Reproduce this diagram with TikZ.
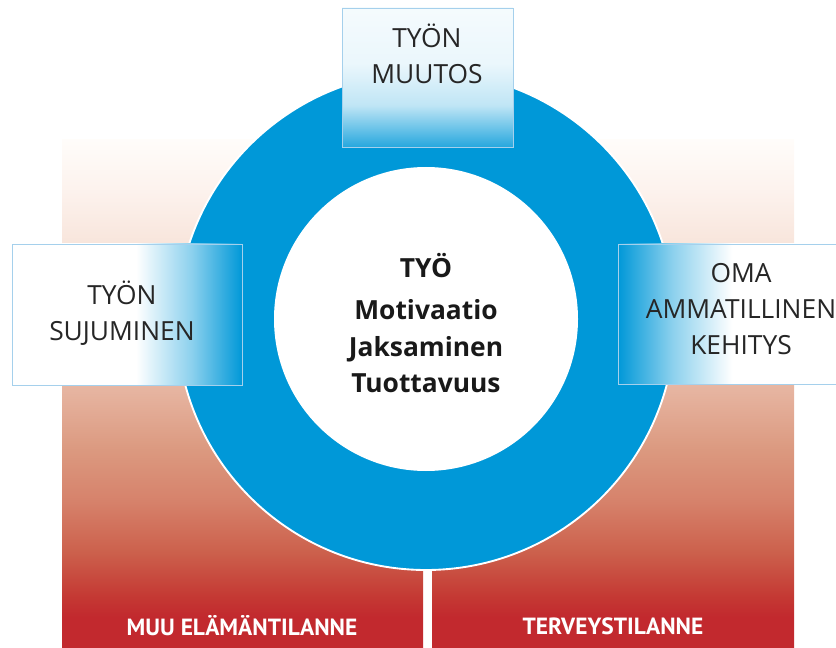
\documentclass[tikz,border=0pt]{standalone}
\usepackage{fontspec}
\setmainfont{Open Sans}
\newfontfamily\bandfont{PT Sans}
\usepackage{tikz}

\definecolor{ringblue}{RGB}{0,152,216}
\definecolor{bandred}{RGB}{195,40,45}
\definecolor{boxline}{RGB}{165,208,236}

% fades for the boxes and the red bands
\pgfdeclarehorizontalshading{fadeleft}{100bp}{color(0bp)=(white); color(25bp)=(white); color(52bp)=(white); color(64bp)=(ringblue!45); color(75bp)=(ringblue); color(100bp)=(ringblue)}
\pgfdeclarehorizontalshading{faderight}{100bp}{color(0bp)=(ringblue); color(25bp)=(ringblue); color(36bp)=(ringblue!45); color(48bp)=(white); color(100bp)=(white)}
\pgfdeclareverticalshading{fadetop}{100bp}{color(0bp)=(ringblue); color(25bp)=(ringblue!85); color(40bp)=(ringblue!25); color(55bp)=(ringblue!8); color(75bp)=(ringblue!4); color(100bp)=(ringblue!4)}
\pgfdeclareverticalshading{fadered}{100bp}{rgb(0bp)=(0.76,0.16,0.18); rgb(28bp)=(0.76,0.16,0.18); rgb(30bp)=(0.77,0.22,0.20); rgb(34.5bp)=(0.80,0.38,0.30); rgb(39.5bp)=(0.84,0.51,0.42); rgb(44.5bp)=(0.86,0.60,0.50); rgb(50bp)=(0.90,0.70,0.62); rgb(58bp)=(0.95,0.83,0.77); rgb(64bp)=(0.97,0.89,0.85); rgb(70bp)=(0.99,0.95,0.93); rgb(75bp)=(1,0.99,0.98); rgb(100bp)=(1,1,1)}

\begin{document}
\begin{tikzpicture}[x=0.03cm, y=-0.03cm,
    every node/.style={inner sep=0pt, align=center},
    boxtext/.style={font=\fontsize{22.5}{30.5}\selectfont, text=black!85},
    ringtext/.style={font=\fontsize{22.5}{31}\selectfont\bfseries, text=black!90},
    bandtext/.style={font=\bandfont\fontsize{20}{22}\selectfont\bfseries, text=white},
    sidebox/.style={draw=boxline, line width=0.6pt}]
    \useasboundingbox (0,0) rectangle (836,648);
    \clip (0,0) rectangle (836,648);

    % Background bands
    \fill[shading=fadered] (62,140) rectangle (423,648);
    \fill[shading=fadered] (432,140) rectangle (794,648);

    % Ring
    \fill[ringblue, draw=white, line width=1.6pt] (426,321) circle[radius=249];
    \fill[white] (426,319) circle[radius=152];

    % Boxes
    \node[sidebox, shading=fadetop, minimum width=5.13cm, minimum height=4.17cm] (muutos) at (427.5,77.5) {};
    \node[sidebox, shading=fadeleft, minimum width=6.9cm, minimum height=4.23cm] (sujuminen) at (127,314.5) {};
    \node[sidebox, shading=faderight, minimum width=7.44cm, minimum height=4.2cm] (kehitys) at (742,314) {};

    % Texts
    \node[boxtext] (muutostxt) at (427,54) {TYÖN\\MUUTOS};
    \node[boxtext] (sujuminentxt) at (122,313.5) {TYÖN\\SUJUMINEN};
    \node[boxtext] (kehitystxt) at (741,309) {OMA\\AMMATILLINEN\\KEHITYS};
    \node[ringtext] (tyo) at (426,323) {TYÖ\\[5pt]Motivaatio\\Jaksaminen\\Tuottavuus};
    \node[bandtext] (elama) at (242,626) {MUU ELÄMÄNTILANNE};
    \node[bandtext] (terveys) at (613,626) {TERVEYSTILANNE};
\end{tikzpicture}
\end{document}
